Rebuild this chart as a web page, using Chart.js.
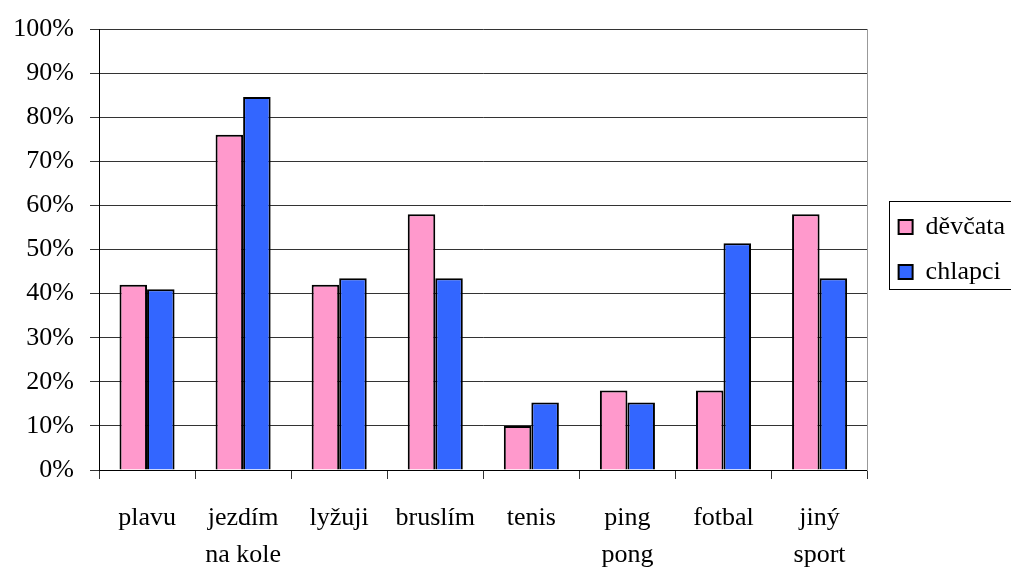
<!DOCTYPE html>
<html>
<head>
<meta charset="utf-8">
<script src="https://cdn.jsdelivr.net/npm/chart.js@4"></script>
<style>
html,body{margin:0;padding:0;background:#fff;}
#wrap{width:1011px;height:569px;position:relative;}
</style>
</head>
<body>
<div id="wrap"><canvas id="c" width="1011" height="569"></canvas></div>
<script>
const categories = [["plavu"], ["jezdím", "na kole"], ["lyžuji"], ["bruslím"], ["tenis"], ["ping", "pong"], ["fotbal"], ["jiný", "sport"]];
const seriesNames = ["děvčata", "chlapci"];
const girls = [42, 76, 42, 58, 10, 18, 18, 58];
const boys = [41, 84.6, 43.5, 43.5, 15.3, 15.3, 51.4, 43.5];
const yTicks = [0, 10, 20, 30, 40, 50, 60, 70, 80, 90, 100];

const FONT = "'Liberation Serif', 'Times New Roman', serif";

const legendBox = {
  id: 'legendBox',
  afterDraw(chart) {
    const lg = chart.legend;
    if (!lg || !lg.legendHitBoxes || lg.legendHitBoxes.length < 2) return;
    const h0 = lg.legendHitBoxes[0], h1 = lg.legendHitBoxes[1];
    const ctx = chart.ctx;
    ctx.save();
    ctx.strokeStyle = '#000';
    ctx.lineWidth = 1;
    const left = Math.round(h0.left - 10) + 0.5;
    const top = Math.round(h0.top + h0.height / 2 - 26) + 0.5;
    const bottom = Math.round(h1.top + h1.height / 2 + 17) + 0.5;
    ctx.strokeRect(left, top, chart.width + 10 - left, bottom - top);
    ctx.restore();
  }
};

new Chart(document.getElementById('c'), {
  type: 'bar',
  data: {
    labels: categories,
    datasets: [
      { label: seriesNames[0], data: girls, backgroundColor: '#FF99CC', borderColor: '#000', borderWidth: 2 },
      { label: seriesNames[1], data: boys, backgroundColor: '#3366FF', borderColor: '#000', borderWidth: 2 }
    ]
  },
  options: {
    responsive: false,
    animation: false,
    devicePixelRatio: 1,
    layout: { padding: { left: 12, top: 0, right: -4, bottom: 0 } },
    datasets: { bar: { categoryPercentage: 0.573, barPercentage: 1.0 } },
    plugins: {
      tooltip: { enabled: false },
      legend: {
        position: 'right',
        align: 'center',
        fullSize: false,
        labels: {
          font: { family: FONT, size: 26 },
          color: '#000',
          boxWidth: 14,
          boxHeight: 14,
          padding: 19
        }
      }
    },
    scales: {
      x: {
        offset: true,
        afterFit: (scale) => { scale.height = 99; },
        grid: { offset: true, drawOnChartArea: false, drawTicks: true, tickLength: 9, color: '#333', lineWidth: 1 },
        border: { display: true, color: '#000', width: 1 },
        ticks: { font: { family: FONT, size: 26, lineHeight: 1.45 }, color: '#000', padding: 20, maxRotation: 0, autoSkip: false }
      },
      y: {
        min: 0, max: 100,
        afterBuildTicks: (scale) => { scale.ticks = yTicks.map(v => ({ value: v })); },
        afterFit: (scale) => { scale.width = 87; },
        grid: { color: '#333', lineWidth: 1, tickLength: 9, drawTicks: true },
        border: { display: true, color: '#000', width: 1 },
        ticks: { font: { family: FONT, size: 26, lineHeight: 1.0 }, color: '#000', padding: 16, callback: (v) => v + '%' }
      },
      yRight: {
        position: 'right',
        min: 0, max: 100,
        grid: { display: false, drawTicks: false },
        border: { display: true, color: '#999', width: 1 },
        ticks: { display: false },
        afterFit: (scale) => { scale.width = 12; }
      }
    }
  },
  plugins: [legendBox]
});
</script>
</body>
</html>
